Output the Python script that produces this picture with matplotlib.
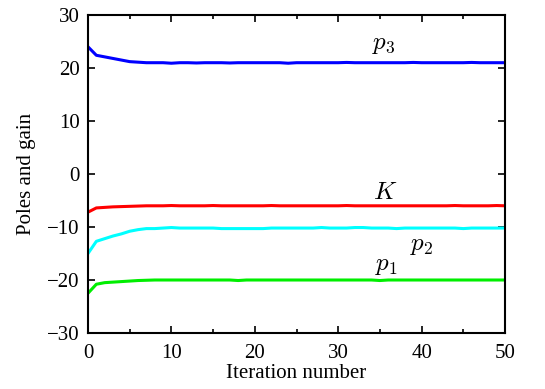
import numpy as np
from matplotlib import pyplot as plt

plt.rcParams['font.family'] = 'Liberation Serif'
plt.rcParams['mathtext.fontset'] = 'cm'

iteration = np.arange(51)

p3 = [24.0, 22.4, 22.1, 21.8, 21.5, 21.2, 21.1, 21.0, 21.0, 21.0,
      20.9, 21.0, 21.0, 20.95, 21.0, 21.0, 21.0, 20.95, 21.0, 21.0,
      21.0, 21.0, 21.0, 21.0, 20.9, 21.0, 21.0, 21.0, 21.0, 21.0,
      21.0, 21.05, 21.0, 21.0, 21.0, 21.0, 21.0, 21.0, 21.0, 21.05,
      21.0, 21.0, 21.0, 21.0, 21.0, 21.0, 21.05, 21.0, 21.0, 21.0, 21.0]
K = [-7.2, -6.4, -6.3, -6.2, -6.15, -6.1, -6.05, -6.0, -6.0, -6.0,
     -5.95, -6.0, -6.0, -6.0, -6.0, -5.95, -6.0, -6.0, -6.0, -6.0,
     -6.0, -6.0, -5.95, -6.0, -6.0, -6.0, -6.0, -6.0, -6.0, -6.0,
     -6.0, -5.95, -6.0, -6.0, -6.0, -6.0, -6.0, -6.0, -6.0, -6.0,
     -6.0, -6.0, -6.0, -6.0, -5.95, -6.0, -6.0, -6.0, -6.0, -5.95, -6.0]
p2 = [-15.0, -12.7, -12.2, -11.7, -11.3, -10.8, -10.5, -10.3, -10.3, -10.2,
      -10.1, -10.2, -10.2, -10.2, -10.2, -10.2, -10.3, -10.3, -10.3, -10.3,
      -10.3, -10.3, -10.2, -10.2, -10.2, -10.2, -10.2, -10.2, -10.1, -10.2,
      -10.2, -10.2, -10.1, -10.1, -10.2, -10.2, -10.2, -10.3, -10.2, -10.2,
      -10.2, -10.2, -10.2, -10.2, -10.2, -10.3, -10.2, -10.2, -10.2, -10.2, -10.2]
p1 = [-22.5, -20.8, -20.5, -20.4, -20.3, -20.2, -20.1, -20.05, -20.0, -20.0,
      -20.0, -20.0, -20.0, -20.0, -20.0, -20.0, -20.0, -20.0, -20.1, -20.0,
      -20.0, -20.0, -20.0, -20.0, -20.0, -20.0, -20.0, -20.0, -20.0, -20.0,
      -20.0, -20.0, -20.0, -20.0, -20.0, -20.1, -20.0, -20.0, -20.0, -20.0,
      -20.0, -20.0, -20.0, -20.0, -20.0, -20.0, -20.0, -20.0, -20.0, -20.0, -20.0]

fig = plt.figure(figsize=(5.45, 3.89), dpi=100)
ax = fig.add_axes([88/545, 1-333/389, (505-88)/545, (333-15)/389])

ax.plot(iteration, p3, color='#0000ff', lw=2.2)
ax.plot(iteration, K, color='#ff0000', lw=2.2)
ax.plot(iteration, p2, color='#00ffff', lw=2.2)
ax.plot(iteration, p1, color='#00ee00', lw=2.2)

ax.text(35.5, 24.3, r'$p_3$', fontsize=18, ha='center', va='center')
ax.text(35.6, -3.6, r'$K$', fontsize=18, ha='center', va='center')
ax.text(40.0, -13.5, r'$p_2$', fontsize=18, ha='center', va='center')
ax.text(35.8, -17.3, r'$p_1$', fontsize=18, ha='center', va='center')

ax.set_xlim(0, 50)
ax.set_ylim(-30, 30)
ax.set_xticks(np.arange(0, 51, 10))
ax.set_xticks(np.arange(5, 50, 10), minor=True)
ax.set_yticks(np.arange(-30, 31, 10))
ax.set_yticklabels(['\u221230', '\u221220', '\u221210', '0', '10', '20', '30'])
ax.tick_params(axis='x', pad=8)
ax.tick_params(axis='y', pad=6)
ax.tick_params(direction='in', top=True, right=True, labelsize=15, length=5, width=1.2)
ax.tick_params(which='minor', direction='in', top=True, length=3, width=1.2)
for s in ax.spines.values():
    s.set_linewidth(1.5)

ax.set_xlabel('Iteration number', fontsize=15, labelpad=1)
ax.set_ylabel('Poles and gain', fontsize=15, labelpad=8)

fig.savefig('out.png', dpi=100)
